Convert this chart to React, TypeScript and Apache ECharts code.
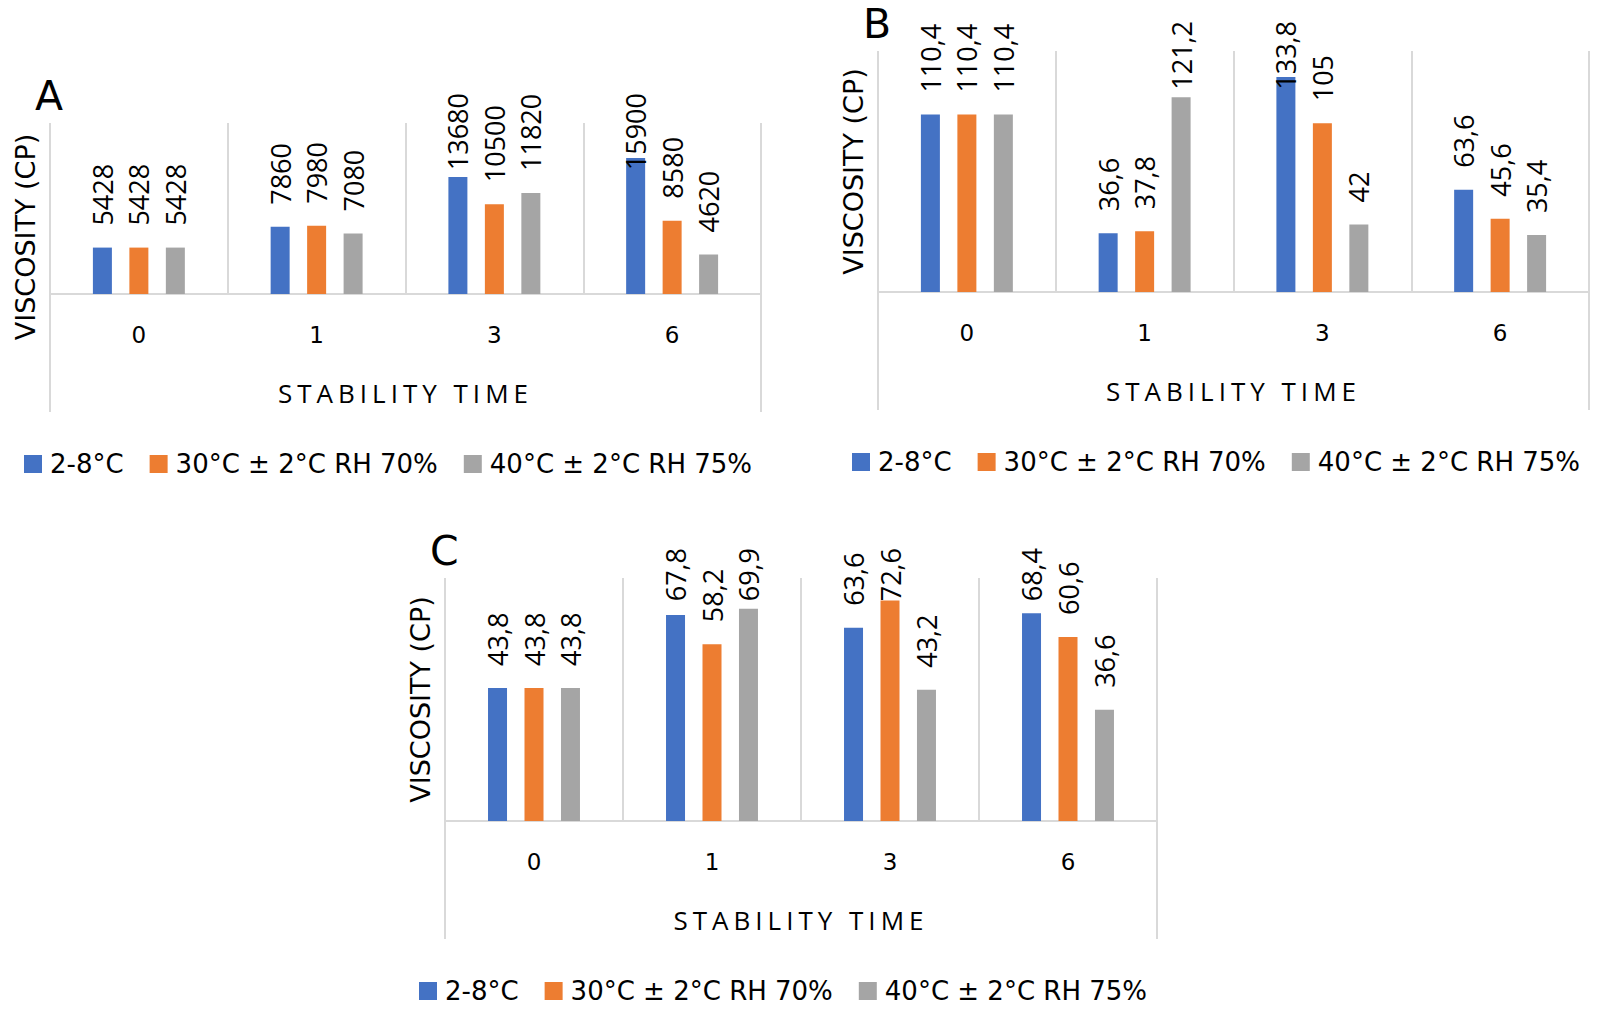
import React, { useEffect, useRef } from 'react';
import * as echarts from 'echarts';

// ---------- data ----------
const categories = ['0', '1', '3', '6'];
const seriesNames = ['2-8°C', '30°C ± 2°C RH 70%', '40°C ± 2°C RH 75%'];
const seriesColors = ['#4472C4', '#ED7D31', '#A5A5A5'];

const viscA_2_8 = [5428, 7860, 13680, 15900];
const viscA_30 = [5428, 7980, 10500, 8580];
const viscA_40 = [5428, 7080, 11820, 4620];

const viscB_2_8 = [110.4, 36.6, 133.8, 63.6];
const viscB_30 = [110.4, 37.8, 105, 45.6];
const viscB_40 = [110.4, 121.2, 42, 35.4];

const viscC_2_8 = [43.8, 67.8, 63.6, 68.4];
const viscC_30 = [43.8, 58.2, 72.6, 60.6];
const viscC_40 = [43.8, 69.9, 43.2, 36.6];

const panelLetters = ['A', 'B', 'C'];
const panelYMax = [20000, 150, 80];
const xTitle = 'STABILITY TIME';
const yTitle = 'VISCOSITY (CP)';

const panelData = [
  [viscA_2_8, viscA_30, viscA_40],
  [viscB_2_8, viscB_30, viscB_40],
  [viscC_2_8, viscC_30, viscC_40],
];

// ---------- layout (pixels) ----------
const layout = [
  { left: 50, top: 123, base: 294, width: 711, titleMid: 237 },
  { left: 878, top: 51, base: 292, width: 711, titleMid: 171.5 },
  { left: 445, top: 578, base: 821, width: 712, titleMid: 699.5 },
];

const GRID_COLOR = '#D9D9D9';
const TEXT_COLOR = '#000000';
const LEGEND_FONT = 26;

function buildOption(): any {
  const grid = layout.map((p) => ({
    left: p.left,
    top: p.top,
    width: p.width,
    height: p.base - p.top,
    outerBoundsMode: 'none',
    containLabel: false,
  }));

  const xAxis = layout.map((p, i) => ({
    type: 'category',
    gridIndex: i,
    data: categories,
    axisLine: { show: true, lineStyle: { color: GRID_COLOR, width: 2 } },
    axisTick: { show: false },
    axisLabel: {
      margin: 29,
      fontFamily: 'DejaVu Sans',
      fontSize: 23,
      color: TEXT_COLOR,
    },
    splitLine: { show: true, lineStyle: { color: GRID_COLOR, width: 2 } },
    name: xTitle,
    nameLocation: 'middle',
    nameGap: 86,
    nameTextStyle: { fontFamily: 'Open Sans', fontSize: 26, color: TEXT_COLOR },
  }));

  const yAxis = layout.map((p, i) => ({
    type: 'value',
    gridIndex: i,
    min: 0,
    max: panelYMax[i],
    show: false,
  }));

  const series: any[] = [];
  layout.forEach((p, i) => {
    seriesNames.forEach((name, j) => {
      series.push({
        type: 'bar',
        name,
        xAxisIndex: i,
        yAxisIndex: i,
        data: panelData[i][j],
        barWidth: 19,
        barGap: '92%',
        itemStyle: { color: seriesColors[j] },
        silent: true,
        emphasis: { disabled: true },
        label: {
          show: true,
          position: 'top',
          distance: 22,
          rotate: 90,
          align: 'left',
          verticalAlign: 'middle',
          fontFamily: 'Open Sans',
          fontSize: 27,
          color: TEXT_COLOR,
          formatter: (prm: any) => String(prm.value).replace('.', ','),
        },
        labelLayout: (params: any) => {
          const r = params.labelRect;
          const minY = p.top - 30;
          if (r && r.y < minY) {
            return { x: r.x + r.width / 2, y: minY + r.height };
          }
          return {};
        },
      });
    });
  });

  const legend = layout.map((p) => ({
    left: p.left - 31,
    top: p.base + 170 - LEGEND_FONT / 2 - 5,
    orient: 'horizontal',
    icon: 'rect',
    itemWidth: 18,
    itemHeight: 18,
    itemGap: 26,
    selectedMode: false,
    data: seriesNames,
    textStyle: {
      fontFamily: 'DejaVu Sans',
      fontSize: LEGEND_FONT,
      color: TEXT_COLOR,
      padding: [0, 0, 0, 3],
    },
  }));

  const graphic: any[] = [];
  layout.forEach((p, i) => {
    graphic.push({
      type: 'text',
      silent: true,
      x: p.left - 15,
      y: p.top - 27,
      style: {
        text: panelLetters[i],
        font: '41px "DejaVu Sans"',
        fill: TEXT_COLOR,
        align: 'left',
        verticalAlign: 'middle',
        textAlign: 'left',
        textVerticalAlign: 'middle',
      },
    });
    graphic.push({
      type: 'text',
      silent: true,
      x: p.left - 24.5,
      y: p.titleMid,
      rotation: Math.PI / 2,
      style: {
        text: yTitle,
        font: '27px "DejaVu Sans"',
        fill: TEXT_COLOR,
        align: 'center',
        verticalAlign: 'middle',
        textAlign: 'center',
        textVerticalAlign: 'middle',
      },
    });
    [p.left, p.left + p.width].forEach((xx) => {
      graphic.push({
        type: 'line',
        silent: true,
        shape: { x1: xx, y1: p.top, x2: xx, y2: p.base + 118 },
        style: { stroke: GRID_COLOR, lineWidth: 2 },
      });
    });
  });

  return {
    animation: false,
    backgroundColor: '#ffffff',
    grid,
    xAxis,
    yAxis,
    legend,
    series,
    graphic,
  };
}

export default function App() {
  const ref = useRef<HTMLDivElement | null>(null);

  useEffect(() => {
    const el = ref.current;
    if (!el) return;
    const chart = echarts.init(el, undefined, { renderer: 'svg' });
    chart.setOption(buildOption());
    const applySpacing = () => {
      el.querySelectorAll('text').forEach((t) => {
        if (t.textContent === xTitle) t.setAttribute('letter-spacing', '5');
      });
    };
    applySpacing();
    chart.on('finished', applySpacing);
    return () => {
      chart.dispose();
    };
  }, []);

  return (
    <div
      ref={ref}
      style={{
        position: 'fixed',
        left: 0,
        top: 0,
        width: 1600,
        height: 1021,
        background: '#ffffff',
      }}
    />
  );
}
